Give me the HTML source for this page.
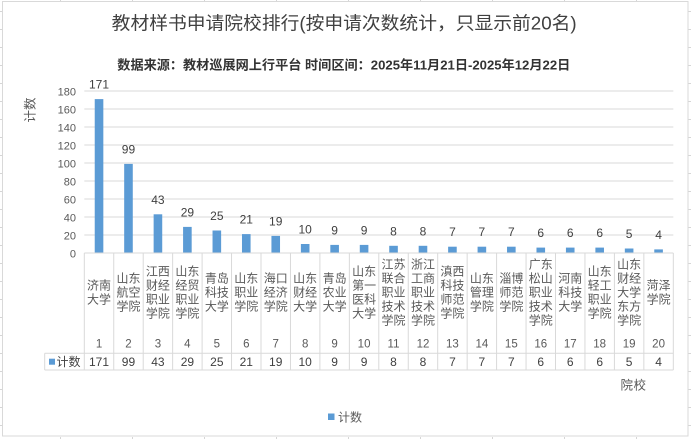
<!DOCTYPE html>
<html><head><meta charset="utf-8">
<style>
html,body{margin:0;padding:0;background:#fff;}
svg{display:block;}
text{font-family:"Liberation Sans","Noto Sans CJK SC",sans-serif;}
.cj{font-family:"Liberation Sans","Noto Sans CJK SC",sans-serif;}
</style></head>
<body>
<svg width="691" height="439" viewBox="0 0 691 439" xmlns="http://www.w3.org/2000/svg">
<rect width="691" height="439" fill="#fff"/>
<!-- spreadsheet grid ticks outside chart -->
<g stroke="#d6d6d6" stroke-width="1">
<line x1="0" y1="11.5" x2="2.5" y2="11.5"/><line x1="0" y1="29.5" x2="2.5" y2="29.5"/><line x1="0" y1="47.5" x2="2.5" y2="47.5"/><line x1="0" y1="65.5" x2="2.5" y2="65.5"/><line x1="0" y1="83.5" x2="2.5" y2="83.5"/><line x1="0" y1="101.5" x2="2.5" y2="101.5"/><line x1="0" y1="119.5" x2="2.5" y2="119.5"/><line x1="0" y1="137.5" x2="2.5" y2="137.5"/><line x1="0" y1="155.5" x2="2.5" y2="155.5"/><line x1="0" y1="173.5" x2="2.5" y2="173.5"/><line x1="0" y1="191.5" x2="2.5" y2="191.5"/><line x1="0" y1="209.5" x2="2.5" y2="209.5"/><line x1="0" y1="227.5" x2="2.5" y2="227.5"/><line x1="0" y1="245.5" x2="2.5" y2="245.5"/><line x1="0" y1="263.5" x2="2.5" y2="263.5"/><line x1="0" y1="281.5" x2="2.5" y2="281.5"/><line x1="0" y1="299.5" x2="2.5" y2="299.5"/><line x1="0" y1="317.5" x2="2.5" y2="317.5"/><line x1="0" y1="335.5" x2="2.5" y2="335.5"/><line x1="0" y1="353.5" x2="2.5" y2="353.5"/><line x1="0" y1="371.5" x2="2.5" y2="371.5"/><line x1="0" y1="389.5" x2="2.5" y2="389.5"/><line x1="0" y1="407.5" x2="2.5" y2="407.5"/><line x1="0" y1="425.5" x2="2.5" y2="425.5"/>
<line x1="688.5" y1="11.5" x2="691" y2="11.5"/><line x1="688.5" y1="29.5" x2="691" y2="29.5"/><line x1="688.5" y1="47.5" x2="691" y2="47.5"/><line x1="688.5" y1="65.5" x2="691" y2="65.5"/><line x1="688.5" y1="83.5" x2="691" y2="83.5"/><line x1="688.5" y1="101.5" x2="691" y2="101.5"/><line x1="688.5" y1="119.5" x2="691" y2="119.5"/><line x1="688.5" y1="137.5" x2="691" y2="137.5"/><line x1="688.5" y1="155.5" x2="691" y2="155.5"/><line x1="688.5" y1="173.5" x2="691" y2="173.5"/><line x1="688.5" y1="191.5" x2="691" y2="191.5"/><line x1="688.5" y1="209.5" x2="691" y2="209.5"/><line x1="688.5" y1="227.5" x2="691" y2="227.5"/><line x1="688.5" y1="245.5" x2="691" y2="245.5"/><line x1="688.5" y1="263.5" x2="691" y2="263.5"/><line x1="688.5" y1="281.5" x2="691" y2="281.5"/><line x1="688.5" y1="299.5" x2="691" y2="299.5"/><line x1="688.5" y1="317.5" x2="691" y2="317.5"/><line x1="688.5" y1="335.5" x2="691" y2="335.5"/><line x1="688.5" y1="353.5" x2="691" y2="353.5"/><line x1="688.5" y1="371.5" x2="691" y2="371.5"/><line x1="688.5" y1="389.5" x2="691" y2="389.5"/><line x1="688.5" y1="407.5" x2="691" y2="407.5"/><line x1="688.5" y1="425.5" x2="691" y2="425.5"/>
<line x1="60.5" y1="0" x2="60.5" y2="1"/><line x1="132.5" y1="0" x2="132.5" y2="1"/><line x1="204.5" y1="0" x2="204.5" y2="1"/><line x1="276.5" y1="0" x2="276.5" y2="1"/><line x1="348.5" y1="0" x2="348.5" y2="1"/><line x1="420.5" y1="0" x2="420.5" y2="1"/><line x1="492.5" y1="0" x2="492.5" y2="1"/><line x1="564.5" y1="0" x2="564.5" y2="1"/><line x1="636.5" y1="0" x2="636.5" y2="1"/>
<line x1="60.5" y1="437" x2="60.5" y2="439"/><line x1="132.5" y1="437" x2="132.5" y2="439"/><line x1="204.5" y1="437" x2="204.5" y2="439"/><line x1="276.5" y1="437" x2="276.5" y2="439"/><line x1="348.5" y1="437" x2="348.5" y2="439"/><line x1="420.5" y1="437" x2="420.5" y2="439"/><line x1="492.5" y1="437" x2="492.5" y2="439"/><line x1="564.5" y1="437" x2="564.5" y2="439"/><line x1="636.5" y1="437" x2="636.5" y2="439"/>
</g>
<!-- chart frame -->
<rect x="2.5" y="1.5" width="685.5" height="434.5" fill="#fff" stroke="#d9d9d9" stroke-width="1"/>

<!-- titles -->
<text x="111.7" y="29.5" font-size="18" fill="#404040" textLength="465" lengthAdjust="spacingAndGlyphs">教材样书申请院校排行(按申请次数统计，只显示前20名)</text>
<text x="117.3" y="69.5" font-size="13" font-weight="bold" fill="#333333" textLength="453" lengthAdjust="spacingAndGlyphs">数据来源：教材巡展网上行平台  时间区间：2025年11月21日-2025年12月22日</text>

<!-- gridlines -->
<g stroke="#d9d9d9" stroke-width="1">
<line x1="84.3" y1="91" x2="673.3" y2="91"/><line x1="84.3" y1="109" x2="673.3" y2="109"/><line x1="84.3" y1="127" x2="673.3" y2="127"/><line x1="84.3" y1="145" x2="673.3" y2="145"/><line x1="84.3" y1="163" x2="673.3" y2="163"/><line x1="84.3" y1="181" x2="673.3" y2="181"/><line x1="84.3" y1="199" x2="673.3" y2="199"/><line x1="84.3" y1="217" x2="673.3" y2="217"/><line x1="84.3" y1="235" x2="673.3" y2="235"/>
</g>

<!-- y tick labels -->
<g font-size="11" fill="#595959" text-anchor="end">
<text x="76" y="95.3">180</text><text x="76" y="113.3">160</text><text x="76" y="131.3">140</text><text x="76" y="149.3">120</text><text x="76" y="167.3">100</text><text x="76" y="185.3">80</text><text x="76" y="203.3">60</text><text x="76" y="221.3">40</text><text x="76" y="239.3">20</text><text x="76" y="257.3">0</text>
</g>
<!-- y axis title -->
<text transform="translate(34.5,110) rotate(-90)" font-size="12.5" fill="#595959" text-anchor="middle">计数</text>

<!-- bars -->
<g fill="#5b9bd5">
<rect x="94.73" y="99.1" width="8.6" height="153.9"/>
<rect x="124.18" y="163.9" width="8.6" height="89.1"/>
<rect x="153.63" y="214.3" width="8.6" height="38.7"/>
<rect x="183.08" y="226.9" width="8.6" height="26.1"/>
<rect x="212.53" y="230.5" width="8.6" height="22.5"/>
<rect x="241.98" y="234.1" width="8.6" height="18.9"/>
<rect x="271.43" y="235.9" width="8.6" height="17.1"/>
<rect x="300.88" y="244" width="8.6" height="9"/>
<rect x="330.33" y="244.9" width="8.6" height="8.1"/>
<rect x="359.78" y="244.9" width="8.6" height="8.1"/>
<rect x="389.23" y="245.8" width="8.6" height="7.2"/>
<rect x="418.68" y="245.8" width="8.6" height="7.2"/>
<rect x="448.13" y="246.7" width="8.6" height="6.3"/>
<rect x="477.58" y="246.7" width="8.6" height="6.3"/>
<rect x="507.03" y="246.7" width="8.6" height="6.3"/>
<rect x="536.48" y="247.6" width="8.6" height="5.4"/>
<rect x="565.93" y="247.6" width="8.6" height="5.4"/>
<rect x="595.38" y="247.6" width="8.6" height="5.4"/>
<rect x="624.83" y="248.5" width="8.6" height="4.5"/>
<rect x="654.28" y="249.4" width="8.6" height="3.6"/>
</g>

<!-- data labels -->
<g font-size="12" fill="#404040" text-anchor="middle">
<text x="99.03" y="88.6">171</text>
<text x="128.48" y="153.4">99</text>
<text x="157.93" y="203.8">43</text>
<text x="187.38" y="216.4">29</text>
<text x="216.83" y="220">25</text>
<text x="246.28" y="223.6">21</text>
<text x="275.73" y="225.4">19</text>
<text x="305.18" y="233.5">10</text>
<text x="334.63" y="234.4">9</text>
<text x="364.08" y="234.4">9</text>
<text x="393.53" y="235.3">8</text>
<text x="422.98" y="235.3">8</text>
<text x="452.43" y="236.2">7</text>
<text x="481.88" y="236.2">7</text>
<text x="511.33" y="236.2">7</text>
<text x="540.78" y="237.1">6</text>
<text x="570.23" y="237.1">6</text>
<text x="599.68" y="237.1">6</text>
<text x="629.13" y="238">5</text>
<text x="658.58" y="238.9">4</text>
</g>

<!-- data table lines -->
<g stroke="#d9d9d9" stroke-width="1">
<line x1="84.3" y1="253" x2="673.3" y2="253"/>
<line x1="44.7" y1="353.3" x2="673.3" y2="353.3"/>
<line x1="44.7" y1="370" x2="673.3" y2="370"/>
<line x1="44.7" y1="353.3" x2="44.7" y2="370"/>
<line x1="84.3" y1="253" x2="84.3" y2="370"/>
<line x1="113.75" y1="253" x2="113.75" y2="370"/>
<line x1="143.2" y1="253" x2="143.2" y2="370"/>
<line x1="172.65" y1="253" x2="172.65" y2="370"/>
<line x1="202.1" y1="253" x2="202.1" y2="370"/>
<line x1="231.55" y1="253" x2="231.55" y2="370"/>
<line x1="261" y1="253" x2="261" y2="370"/>
<line x1="290.45" y1="253" x2="290.45" y2="370"/>
<line x1="319.9" y1="253" x2="319.9" y2="370"/>
<line x1="349.35" y1="253" x2="349.35" y2="370"/>
<line x1="378.8" y1="253" x2="378.8" y2="370"/>
<line x1="408.25" y1="253" x2="408.25" y2="370"/>
<line x1="437.7" y1="253" x2="437.7" y2="370"/>
<line x1="467.15" y1="253" x2="467.15" y2="370"/>
<line x1="496.6" y1="253" x2="496.6" y2="370"/>
<line x1="526.05" y1="253" x2="526.05" y2="370"/>
<line x1="555.5" y1="253" x2="555.5" y2="370"/>
<line x1="584.95" y1="253" x2="584.95" y2="370"/>
<line x1="614.4" y1="253" x2="614.4" y2="370"/>
<line x1="643.85" y1="253" x2="643.85" y2="370"/>
<line x1="673.3" y1="253" x2="673.3" y2="370"/>
</g>

<!-- category labels -->
<g font-size="12" fill="#595959" text-anchor="middle">
<text x="99.03" y="289.5">济南<tspan x="99.03" dy="14">大学</tspan></text>
<text x="128.48" y="282.5">山东<tspan x="128.48" dy="14">航空</tspan><tspan x="128.48" dy="14">学院</tspan></text>
<text x="157.93" y="275.5">江西<tspan x="157.93" dy="14">财经</tspan><tspan x="157.93" dy="14">职业</tspan><tspan x="157.93" dy="14">学院</tspan></text>
<text x="187.38" y="275.5">山东<tspan x="187.38" dy="14">经贸</tspan><tspan x="187.38" dy="14">职业</tspan><tspan x="187.38" dy="14">学院</tspan></text>
<text x="216.83" y="282.5">青岛<tspan x="216.83" dy="14">科技</tspan><tspan x="216.83" dy="14">大学</tspan></text>
<text x="246.28" y="282.5">山东<tspan x="246.28" dy="14">职业</tspan><tspan x="246.28" dy="14">学院</tspan></text>
<text x="275.73" y="282.5">海口<tspan x="275.73" dy="14">经济</tspan><tspan x="275.73" dy="14">学院</tspan></text>
<text x="305.18" y="282.5">山东<tspan x="305.18" dy="14">财经</tspan><tspan x="305.18" dy="14">大学</tspan></text>
<text x="334.63" y="282.5">青岛<tspan x="334.63" dy="14">农业</tspan><tspan x="334.63" dy="14">大学</tspan></text>
<text x="364.08" y="275.5">山东<tspan x="364.08" dy="14">第一</tspan><tspan x="364.08" dy="14">医科</tspan><tspan x="364.08" dy="14">大学</tspan></text>
<text x="393.53" y="268.5">江苏<tspan x="393.53" dy="14">联合</tspan><tspan x="393.53" dy="14">职业</tspan><tspan x="393.53" dy="14">技术</tspan><tspan x="393.53" dy="14">学院</tspan></text>
<text x="422.98" y="268.5">浙江<tspan x="422.98" dy="14">工商</tspan><tspan x="422.98" dy="14">职业</tspan><tspan x="422.98" dy="14">技术</tspan><tspan x="422.98" dy="14">学院</tspan></text>
<text x="452.43" y="275.5">滇西<tspan x="452.43" dy="14">科技</tspan><tspan x="452.43" dy="14">师范</tspan><tspan x="452.43" dy="14">学院</tspan></text>
<text x="481.88" y="282.5">山东<tspan x="481.88" dy="14">管理</tspan><tspan x="481.88" dy="14">学院</tspan></text>
<text x="511.33" y="282.5">淄博<tspan x="511.33" dy="14">师范</tspan><tspan x="511.33" dy="14">学院</tspan></text>
<text x="540.78" y="268.5">广东<tspan x="540.78" dy="14">松山</tspan><tspan x="540.78" dy="14">职业</tspan><tspan x="540.78" dy="14">技术</tspan><tspan x="540.78" dy="14">学院</tspan></text>
<text x="570.23" y="282.5">河南<tspan x="570.23" dy="14">科技</tspan><tspan x="570.23" dy="14">大学</tspan></text>
<text x="599.68" y="275.5">山东<tspan x="599.68" dy="14">轻工</tspan><tspan x="599.68" dy="14">职业</tspan><tspan x="599.68" dy="14">学院</tspan></text>
<text x="629.13" y="268.5">山东<tspan x="629.13" dy="14">财经</tspan><tspan x="629.13" dy="14">大学</tspan><tspan x="629.13" dy="14">东方</tspan><tspan x="629.13" dy="14">学院</tspan></text>
<text x="658.58" y="289.5">菏泽<tspan x="658.58" dy="14">学院</tspan></text>
</g>

<!-- category numbers -->
<g font-size="11.5" fill="#595959" text-anchor="middle">
<text x="99.03" y="347.6">1</text><text x="128.48" y="347.6">2</text><text x="157.93" y="347.6">3</text><text x="187.38" y="347.6">4</text><text x="216.83" y="347.6">5</text><text x="246.28" y="347.6">6</text><text x="275.73" y="347.6">7</text><text x="305.18" y="347.6">8</text><text x="334.63" y="347.6">9</text><text x="364.08" y="347.6">10</text><text x="393.53" y="347.6">11</text><text x="422.98" y="347.6">12</text><text x="452.43" y="347.6">13</text><text x="481.88" y="347.6">14</text><text x="511.33" y="347.6">15</text><text x="540.78" y="347.6">16</text><text x="570.23" y="347.6">17</text><text x="599.68" y="347.6">18</text><text x="629.13" y="347.6">19</text><text x="658.58" y="347.6">20</text>
</g>

<!-- data row -->
<rect x="49" y="358.7" width="6" height="6" fill="#5b9bd5"/>
<text x="56.5" y="366" font-size="12" fill="#404040">计数</text>
<g font-size="12" fill="#404040" text-anchor="middle">
<text x="99.03" y="366">171</text><text x="128.48" y="366">99</text><text x="157.93" y="366">43</text><text x="187.38" y="366">29</text><text x="216.83" y="366">25</text><text x="246.28" y="366">21</text><text x="275.73" y="366">19</text><text x="305.18" y="366">10</text><text x="334.63" y="366">9</text><text x="364.08" y="366">9</text><text x="393.53" y="366">8</text><text x="422.98" y="366">8</text><text x="452.43" y="366">7</text><text x="481.88" y="366">7</text><text x="511.33" y="366">7</text><text x="540.78" y="366">6</text><text x="570.23" y="366">6</text><text x="599.68" y="366">6</text><text x="629.13" y="366">5</text><text x="658.58" y="366">4</text>
</g>

<!-- x axis title -->
<text x="620.5" y="389.5" font-size="12.5" fill="#595959" letter-spacing="0.5">院校</text>

<!-- legend -->
<rect x="328" y="413.5" width="6.5" height="6.5" fill="#5b9bd5"/>
<text x="338" y="421.5" font-size="12" fill="#595959">计数</text>
</svg>
</body></html>
